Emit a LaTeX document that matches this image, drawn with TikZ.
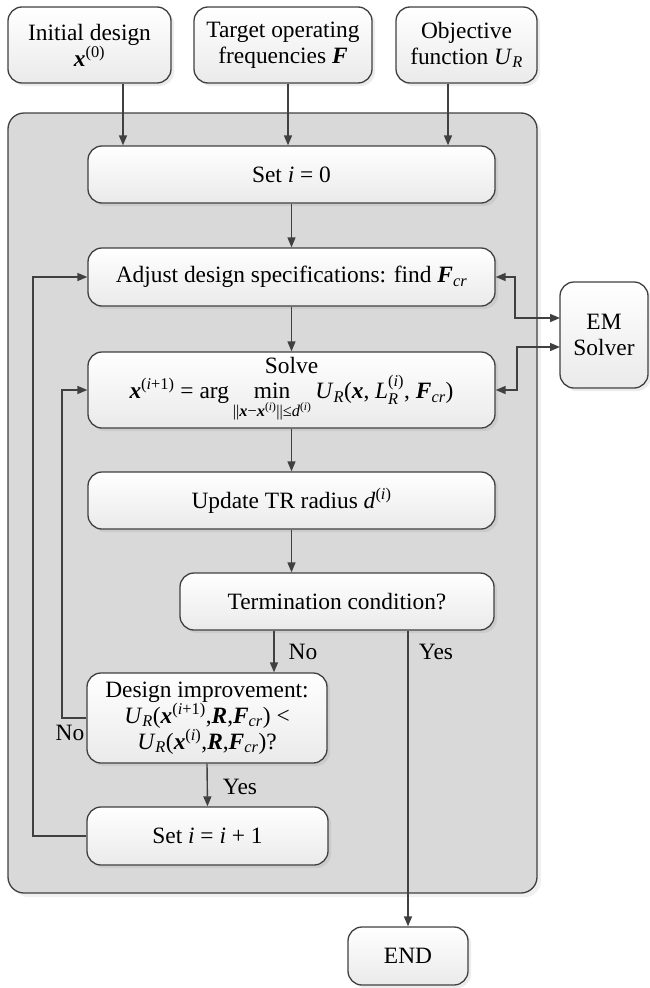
\documentclass[tikz,border=0pt]{standalone}
\usepackage{amsmath}
\usepackage{fontspec}
\setmainfont{Liberation Serif}
\usetikzlibrary{arrows.meta,shadows,calc}
\definecolor{linec}{RGB}{64,64,64}
\definecolor{framec}{RGB}{217,217,217}
\definecolor{boxbot}{RGB}{234,234,234}
\newcommand{\vx}{\textbf{\textit{x}}}
\newcommand{\vF}{\textbf{\textit{F}}}
\newcommand{\vR}{\textbf{\textit{R}}}
\newcommand{\mysup}[1]{\ensuremath{^{\text{#1}}}}
\newcommand{\mysub}[1]{\ensuremath{_{\text{#1}}}}
\newcommand{\UR}{\textit{U}\mysub{\textit{R}}}
\begin{document}
\begin{tikzpicture}[x=1pt,y=-1pt, font=\fontsize{23.4}{26}\selectfont,
 box/.style={draw=linec, line width=1.3pt, rounded corners=14pt, top color=white, bottom color=boxbot, align=center, inner sep=0pt, drop shadow={opacity=0.15, shadow xshift=3pt, shadow yshift=-3pt}},
 arr/.style={draw=linec, line width=1.4pt, -{Triangle[length=10pt,width=8pt]}},
 dbl/.style={draw=linec, line width=1.4pt, {Triangle[length=10pt,width=8pt]}-{Triangle[length=10pt,width=8pt]}},
 lbl/.style={inner sep=0pt}]
\useasboundingbox (0,0) rectangle (649,988);
\node[draw=linec, line width=1.3pt, fill=framec, rounded corners=16pt, minimum width=529pt, minimum height=780pt, inner sep=0pt, drop shadow={opacity=0.12, shadow xshift=4pt, shadow yshift=-4pt}] (frame) at (272.5,503) {};

\node[box, minimum width=163pt, minimum height=76pt] (init) at (89.5,45) {Initial design\\ \vx\mysup{(0)}};
\node[box, minimum width=178pt, minimum height=76pt] (target) at (283,45) {Target operating\\ frequencies \vF};
\node[box, minimum width=141pt, minimum height=76pt] (obj) at (466.5,45) {Objective\\ function \UR};
\node[box, minimum width=407pt, minimum height=57pt] (set0) at (291.5,174.5) {Set \textit{i} = 0};
\node[box, minimum width=407pt, minimum height=58pt] (adjust) at (291.5,277) {Adjust design specifications: find \vF\mysub{\textit{cr}}};
\node[box, minimum width=407pt, minimum height=76pt] (solve) at (291.5,390) {Solve\\[-1pt] \vx\mysup{(\textit{i}+1)} = arg\,$\mathop{\text{min}}\limits_{\text{\raisebox{-2pt}{||\vx−\vx\mysup{(\textit{i})}||≤\textit{d}\mysup{(\textit{i})}}}}$\,\UR(\vx, \textit{L}\ensuremath{^{\text{(\textit{i})}}_{\text{\textit{R}}}}, \vF\mysub{\textit{cr}})};
\node[box, minimum width=407pt, minimum height=57pt] (update) at (291.5,500.5) {Update TR radius \textit{d}\mysup{(\textit{i})}};
\node[box, minimum width=314pt, minimum height=57pt] (term) at (337,601.5) {Termination condition?};
\node[box, minimum width=240pt, minimum height=90pt] (design) at (207,718) {Design improvement:\\ \UR(\vx\mysup{(\textit{i}+1)},\vR,\vF\mysub{\textit{cr}}) <\\ \UR(\vx\mysup{(\textit{i})},\vR,\vF\mysub{\textit{cr}})?};
\node[box, minimum width=241pt, minimum height=58pt] (seti) at (207.5,836) {Set \textit{i} = \textit{i} + 1};
\node[box, minimum width=88pt, minimum height=106pt] (em) at (604,335) {EM\\ Solver};
\node[box, minimum width=120pt, minimum height=58pt] (stop) at (408,956) {END};

\node[lbl] (noA) at (303,652) {No};
\node[lbl] (yesA) at (436,652) {Yes};
\node[lbl] (yesB) at (240,787) {Yes};
\node[lbl] (noB) at (70,733) {No};

\coordinate (cA) at (123,0);
\coordinate (cT) at (288,0);
\coordinate (cO) at (448,0);
\coordinate (cN) at (274,0);
\coordinate (cL1) at (33,0);
\coordinate (cL2) at (62,0);
\coordinate (cE1) at (515,0);
\coordinate (cE2) at (517,0);
\coordinate (emA) at (560,318);
\coordinate (emB) at (560,347);

\draw[arr] (init.south -| cA) -- (set0.north -| cA);
\draw[arr] (target.south -| cT) -- (set0.north -| cT);
\draw[arr] (obj.south -| cO) -- (set0.north -| cO);
\draw[arr] (set0.south) -- (adjust.north);
\draw[arr] (adjust.south) -- (solve.north);
\draw[arr] (solve.south) -- (update.north);
\draw[arr] (update.south) -- (update.south |- term.north);
\draw[arr] (term.south -| cN) -- (design.north -| cN);
\draw[arr] (term.south -| stop.north) -- (stop.north);
\draw[arr] (design.south) -- (seti.north);
\draw[arr] (seti.west) -- (seti.west -| cL1) |- (adjust.west);
\draw[arr] (design.west) -- (design.west -| cL2) |- (solve.west);
\draw[dbl] (adjust.east) -- (adjust.east -| cE1) |- (emA);
\draw[dbl] (solve.east) -- (solve.east -| cE2) |- (emB);
\end{tikzpicture}
\end{document}
